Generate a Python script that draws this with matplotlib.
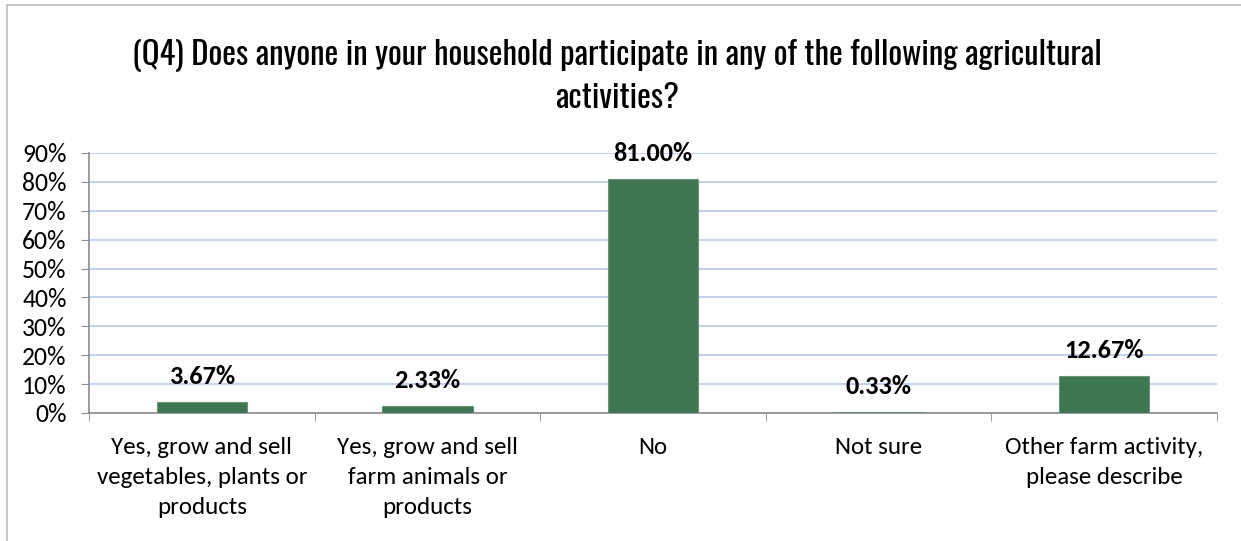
import matplotlib
matplotlib.use("Agg")
import matplotlib.pyplot as plt
from matplotlib.lines import Line2D
from matplotlib.ticker import FixedLocator, PercentFormatter

categories = [
    "Yes, grow and sell\nvegetables, plants or\nproducts",
    "Yes, grow and sell\nfarm animals or\nproducts",
    "No",
    "Not sure",
    "Other farm activity,\nplease describe",
]
shares = [3.67, 2.33, 81.00, 0.33, 12.67]
value_labels = ["3.67%", "2.33%", "81.00%", "0.33%", "12.67%"]
yticks = [0, 10, 20, 30, 40, 50, 60, 70, 80, 90]

body = ["Carlito", "Calibri", "Lato", "DejaVu Sans"]
bar_color = "#3F7652"
grid_color = "#B9C9E6"
axis_color = "#8C8C8C"

fig = plt.figure(figsize=(12.41, 5.41), dpi=100)
W, H = 1241, 541

# frame of the chart area
fig.add_artist(Line2D([7 / W, 1], [1 - 5 / H, 1 - 5 / H], color="#BFBFBF", lw=1.2))
fig.add_artist(Line2D([7 / W, 7 / W], [0, 1 - 5 / H], color="#BFBFBF", lw=1.2))

title_font = dict(ha="center", va="center", fontsize=23.5, fontweight="light",
                  family=["Oswald", "DejaVu Sans"])
fig.text(617 / W, 1 - 55 / H,
         "(Q4) Does anyone in your household participate in any of the following agricultural",
         **title_font)
fig.text(617 / W, 1 - 98 / H, "activities?", **title_font)

ax = fig.add_axes([89 / W, 1 - 413 / H, (1217 - 89) / W, (413 - 153) / H])
x = range(len(categories))
bars = ax.bar(x, shares, width=0.4, color=bar_color, edgecolor="#6E9279",
              linewidth=0.8, zorder=3)

for xi, v, lab in zip(x, shares, value_labels):
    ax.annotate(lab, (xi, v), xytext=(0, 13), textcoords="offset points",
                ha="center", va="baseline", fontsize=19, fontweight="bold",
                family=body)

ax.set_xlim(-0.5, len(categories) - 0.5)
ax.set_ylim(0, 90)
ax.set_yticks(yticks)
ax.yaxis.set_major_formatter(PercentFormatter(decimals=0))
ax.yaxis.grid(True, color=grid_color, lw=1.2, zorder=0)

ax.set_xticks(list(x))
ax.set_xticklabels(categories, family=body, fontsize=18, linespacing=1.55)
ax.xaxis.set_minor_locator(FixedLocator([i - 0.5 for i in range(len(categories) + 1)]))
ax.tick_params(axis="x", which="major", length=0, pad=17)
ax.tick_params(axis="x", which="minor", length=6, color=axis_color, direction="out")
ax.tick_params(axis="y", length=6, color=axis_color, pad=10, labelsize=18.5)
for t in ax.get_yticklabels():
    t.set_family(body)

for side in ("top", "right"):
    ax.spines[side].set_visible(False)
for side in ("left", "bottom"):
    ax.spines[side].set_color(axis_color)
    ax.spines[side].set_linewidth(1.2)

fig.savefig("out.png", dpi=100)
